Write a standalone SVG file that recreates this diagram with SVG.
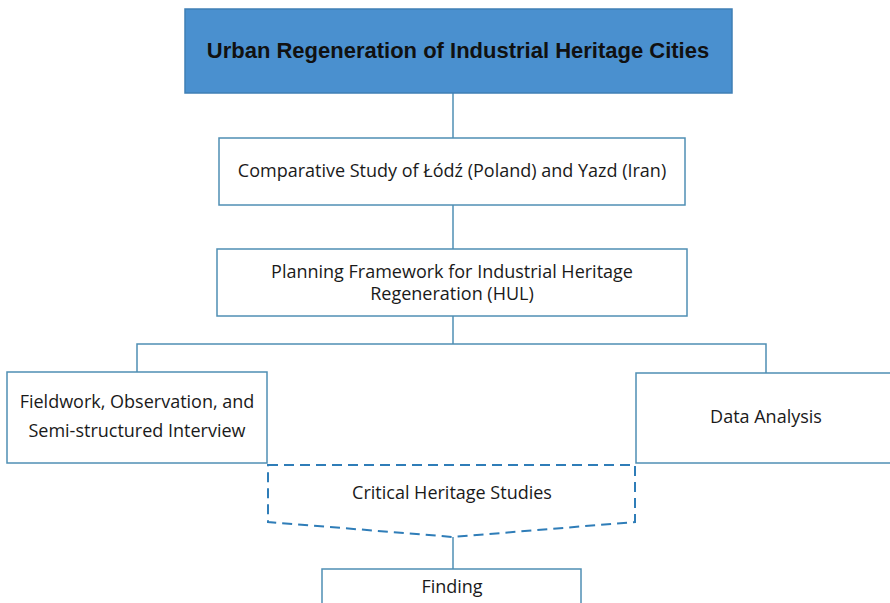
<svg xmlns="http://www.w3.org/2000/svg" width="890" height="603" viewBox="0 0 890 603">
  <style>
    .box { fill: #ffffff; stroke: #4f8fb4; stroke-width: 1.5; }
    .title { fill: #4a90cf; stroke: #3f7fb5; stroke-width: 1.5; }
    .conn { fill: none; stroke: #4f8fb4; stroke-width: 1.5; }
    .dash { fill: none; stroke: #2f7db8; stroke-width: 2; stroke-dasharray: 10 6; }
    .lbl { font-family: "Open Sans", "Noto Sans", sans-serif; font-size: 18px; fill: #1a1a1a; text-anchor: middle; }
    .head { font-family: "Liberation Sans", Arial, sans-serif; font-size: 22px; font-weight: bold; fill: #111111; text-anchor: middle; }
  </style>
  <rect width="890" height="603" fill="#ffffff"/>

  <g id="connectors">
    <line class="conn" x1="453" y1="93" x2="453" y2="138"/>
    <line class="conn" x1="453" y1="205" x2="453" y2="249"/>
    <polyline class="conn" points="453,316 453,344"/>
    <polyline class="conn" points="137,372 137,344 766,344 766,373"/>
    <line class="conn" x1="453" y1="537" x2="453" y2="569"/>
  </g>

  <g id="n-title">
    <rect class="title" x="185" y="9" width="547" height="84"/>
    <text class="head" x="458" y="58">Urban Regeneration of Industrial Heritage Cities</text>
  </g>

  <g id="n-comparative">
    <rect class="box" x="219" y="138" width="466" height="67"/>
    <text class="lbl" x="452" y="177">Comparative Study of Łódź (Poland) and Yazd (Iran)</text>
  </g>

  <g id="n-framework">
    <rect class="box" x="217" y="249" width="470" height="67"/>
    <text class="lbl" x="452" y="278">Planning Framework for Industrial Heritage</text>
    <text class="lbl" x="452" y="300">Regeneration (HUL)</text>
  </g>

  <g id="n-fieldwork">
    <rect class="box" x="7" y="372" width="260" height="91"/>
    <text class="lbl" x="137" y="408">Fieldwork, Observation, and</text>
    <text class="lbl" x="137" y="437">Semi-structured Interview</text>
  </g>

  <g id="n-analysis">
    <rect class="box" x="636" y="373" width="260" height="90"/>
    <text class="lbl" x="766" y="423">Data Analysis</text>
  </g>

  <g id="n-critical">
    <path class="dash" d="M268,465 L635,465 L635,522 L453,537 L268,522 Z"/>
    <text class="lbl" x="452" y="499">Critical Heritage Studies</text>
  </g>

  <g id="n-finding">
    <rect class="box" x="322" y="569" width="259" height="40"/>
    <text class="lbl" x="452" y="593">Finding</text>
  </g>
</svg>
